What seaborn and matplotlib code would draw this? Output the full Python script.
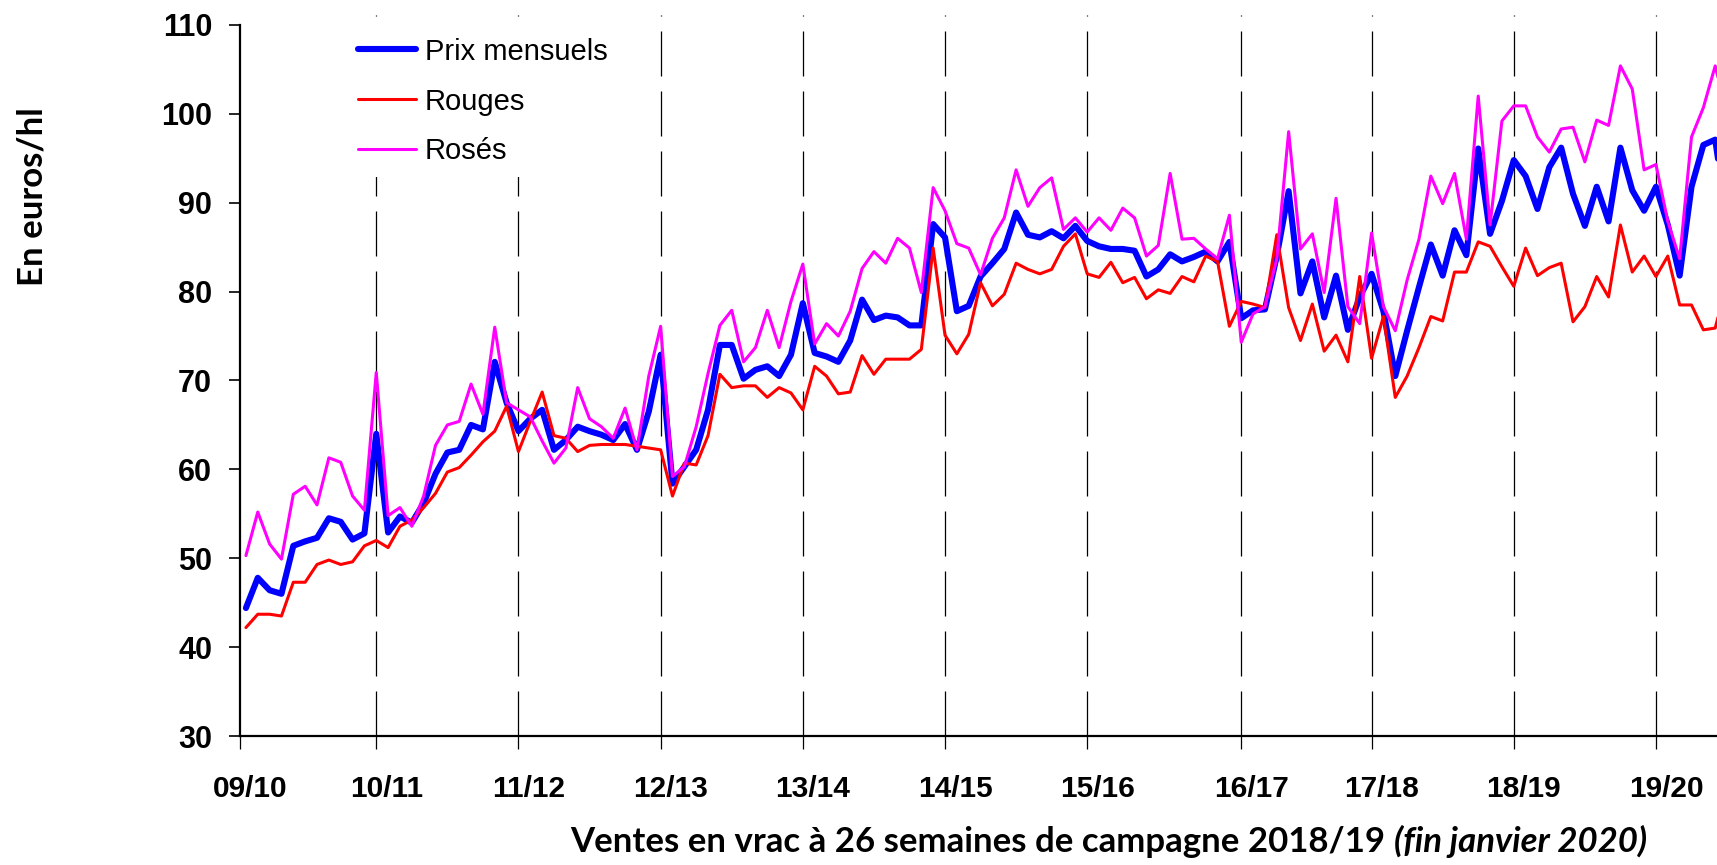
import numpy as np
import pandas as pd
import matplotlib
matplotlib.use("Agg")
import matplotlib.pyplot as plt
import matplotlib.transforms as mtransforms
import seaborn as sns

# prix mensuels en vrac (euros/hl), un point par mois depuis 09/10
prix = [44.4, 47.8, 46.4, 46.0, 51.4, 51.9, 52.3, 54.5, 54.1, 52.1, 52.8, 64.0,
        52.9, 54.7, 54.0, 56.2, 59.5, 61.9, 62.2, 65.0, 64.5, 72.1, 67.5, 64.3,
        65.7, 66.7, 62.2, 63.3, 64.8, 64.3, 63.9, 63.3, 65.1, 62.2, 66.5, 72.9,
        58.4, 60.3, 62.2, 66.7, 74.0, 74.0, 70.2, 71.2, 71.6, 70.5, 72.9, 78.7,
        73.1, 72.7, 72.1, 74.5, 79.1, 76.8, 77.3, 77.1, 76.2, 76.2, 87.6, 86.1,
        77.8, 78.4, 81.7, 83.2, 84.8, 88.9, 86.4, 86.1, 86.8, 86.0, 87.4, 85.7,
        85.1, 84.8, 84.8, 84.6, 81.7, 82.5, 84.2, 83.4, 83.9, 84.5, 83.4, 85.6,
        77.0, 77.9, 78.0, 84.0, 91.3, 79.8, 83.4, 77.1, 81.8, 75.7, 79.4, 82.0,
        77.8, 70.5, 75.6, 80.5, 85.3, 81.8, 86.9, 84.1, 96.1, 86.5, 90.2, 94.8,
        93.0, 89.3, 94.0, 96.2, 91.0, 87.4, 91.8, 87.9, 96.2, 91.4, 89.1, 91.8,
        87.5, 81.8, 91.8, 96.5, 97.1, 88.0]
rouges = [42.2, 43.7, 43.7, 43.5, 47.3, 47.3, 49.3, 49.8, 49.3, 49.6, 51.4, 52.0,
          51.2, 53.6, 54.3, 55.7, 57.3, 59.7, 60.2, 61.6, 63.1, 64.3, 67.1, 62.0,
          65.4, 68.7, 63.8, 63.5, 62.0, 62.7, 62.8, 62.8, 62.8, 62.6, 62.4, 62.2,
          57.0, 60.7, 60.5, 63.8, 70.7, 69.2, 69.4, 69.4, 68.1, 69.2, 68.6, 66.7,
          71.6, 70.5, 68.5, 68.7, 72.8, 70.7, 72.4, 72.4, 72.4, 73.5, 84.9, 75.1,
          73.0, 75.2, 81.0, 78.4, 79.7, 83.2, 82.5, 82.0, 82.5, 85.1, 86.5, 82.0,
          81.6, 83.3, 81.0, 81.6, 79.2, 80.2, 79.8, 81.7, 81.1, 84.0, 83.4, 76.1,
          78.9, 78.6, 78.2, 86.4, 78.2, 74.5, 78.6, 73.3, 75.1, 72.1, 81.7, 72.5,
          77.2, 68.1, 70.5, 73.7, 77.2, 76.7, 82.2, 82.2, 85.6, 85.1, 82.8, 80.6,
          84.9, 81.8, 82.7, 83.2, 76.6, 78.3, 81.7, 79.4, 87.5, 82.2, 84.0, 81.7,
          84.0, 78.5, 78.5, 75.7, 75.9, 81.0]
roses = [50.3, 55.2, 51.6, 49.9, 57.2, 58.1, 56.0, 61.3, 60.8, 57.0, 55.4, 70.9,
         54.8, 55.7, 53.6, 57.0, 62.7, 65.0, 65.4, 69.6, 66.2, 76.0, 67.5, 66.7,
         65.9, 63.2, 60.7, 62.4, 69.2, 65.7, 64.8, 63.5, 66.9, 62.2, 70.5, 76.1,
         59.2, 60.3, 64.8, 70.8, 76.2, 77.9, 72.1, 73.7, 77.9, 73.7, 78.9, 83.1,
         74.1, 76.4, 75.0, 77.8, 82.6, 84.5, 83.2, 86.0, 84.9, 79.9, 91.7, 89.1,
         85.4, 84.9, 81.9, 86.0, 88.3, 93.7, 89.6, 91.7, 92.8, 87.0, 88.3, 86.7,
         88.3, 86.9, 89.4, 88.3, 84.0, 85.2, 93.3, 85.9, 86.0, 84.8, 83.7, 88.6,
         74.3, 77.5, 78.3, 83.7, 98.0, 84.8, 86.5, 79.9, 90.5, 78.3, 76.4, 86.6,
         78.3, 75.6, 81.3, 85.9, 93.0, 89.9, 93.3, 85.9, 102.0, 87.5, 99.2, 100.9,
         100.9, 97.4, 95.7, 98.3, 98.5, 94.6, 99.3, 98.7, 105.4, 102.8, 93.7, 94.3,
         87.9, 83.7, 97.4, 100.7, 105.4, 100.0]

campagnes = ['09/10', '10/11', '11/12', '12/13', '13/14', '14/15',
             '15/16', '16/17', '17/18', '18/19', '19/20']
# mois (index) ou commence chaque campagne
debut_campagne = [-0.5, 11, 23, 35, 47, 59, 71, 84, 95, 107, 119]
yticks = list(range(30, 111, 10))

df = pd.DataFrame({'mois': np.arange(len(prix)),
                   'Prix mensuels': prix, 'Rouges': rouges, 'Rosés': roses})

sns.set_style('white')
plt.rcParams['font.family'] = ['Liberation Sans', 'DejaVu Sans']
plt.rcParams['text.color'] = 'black'
plt.rcParams['xtick.color'] = 'black'
plt.rcParams['ytick.color'] = 'black'

W, H = 1717, 865
fig = plt.figure(figsize=(W / 100, H / 100), dpi=100)
ax = fig.add_axes([240 / W, 129 / H, (W - 240) / W, 711 / H])

# lignes pointillees de debut de campagne
for x in debut_campagne[1:]:
    ax.axvline(x, ymin=0, ymax=1.014, color='black', lw=0.9,
               dashes=(36, 12), clip_on=False, zorder=1)

sns.lineplot(data=df, x='mois', y='Prix mensuels', color='#0000FF',
             linewidth=4.4, label='Prix mensuels', ax=ax, zorder=3)
sns.lineplot(data=df, x='mois', y='Rouges', color='#FF0000',
             linewidth=2.2, label='Rouges', ax=ax, zorder=3)
sns.lineplot(data=df, x='mois', y='Rosés', color='#FF00FF',
             linewidth=2.2, label='Rosés', ax=ax, zorder=3)

ax.set_xlim(-0.5, -0.5 + (W - 240) / 11.849)
ax.set_ylim(30, 110)
ax.set_yticks(yticks)
ax.set_xticks(debut_campagne)
ax.set_xticklabels(campagnes)
ax.set_xlabel('')
ax.set_ylabel('')

for s in ['top', 'right']:
    ax.spines[s].set_visible(False)
for s in ['left', 'bottom']:
    ax.spines[s].set_linewidth(1.6)
    ax.spines[s].set_color('black')

ax.tick_params(axis='y', direction='out', length=8, width=1.2, pad=12,
               labelsize=22, left=True, colors='black')
ax.tick_params(axis='x', direction='out', length=9.4, width=0.9, pad=19,
               labelsize=21.5, bottom=True, colors='black')
for lab in ax.get_yticklabels() + ax.get_xticklabels():
    lab.set_fontweight('bold')
shift = mtransforms.ScaledTranslation(10 / 100, 0, fig.dpi_scale_trans)
for lab in ax.get_xticklabels():
    lab.set_transform(lab.get_transform() + shift)

leg = ax.legend(loc='upper left', bbox_to_anchor=(346 / W, 1 - 26 / H),
                bbox_transform=fig.transFigure, frameon=True, fancybox=False,
                edgecolor='none', facecolor='white', framealpha=1,
                prop={'size': 21}, handlelength=2.0, handletextpad=0.3,
                labelspacing=0.75, borderpad=0.4, borderaxespad=0)
leg.set_zorder(5)

lato = ['Lato', 'DejaVu Sans']
fig.text(32 / W, 1 - 197 / H, 'En euros/hl', rotation=90, ha='center',
         va='center', fontsize=25, fontweight='bold', family=lato)

t1 = fig.text(570 / W, 13 / H, 'Ventes en vrac à 26 semaines de campagne 2018/19 ',
              ha='left', va='baseline', fontsize=25, fontweight='bold',
              family=lato)
renderer = fig.canvas.get_renderer()
bb = t1.get_window_extent(renderer=renderer)
fig.text(bb.x1 / W, 13 / H, '(fin janvier 2020)', ha='left', va='baseline',
         fontsize=25, fontweight='bold', style='italic', family=lato)

fig.savefig('out.png', dpi=100)
